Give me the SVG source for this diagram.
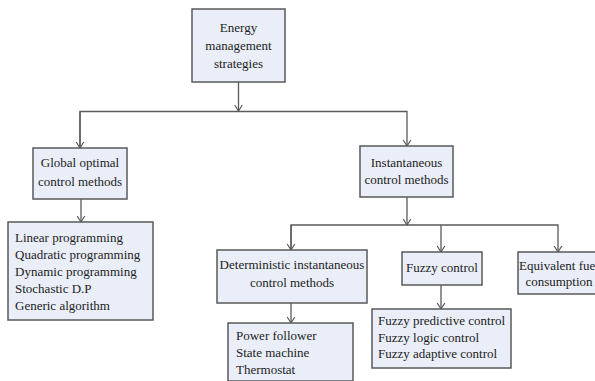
<svg xmlns="http://www.w3.org/2000/svg" width="595" height="381" viewBox="0 0 595 381">
<style>
.box{fill:#e9eef8;stroke:#5a5a5a;stroke-width:1.5}
.t{font-family:"Liberation Serif","Times New Roman",serif;font-size:13px;fill:#222}
.c{text-anchor:middle}
.ln{fill:none;stroke:#5a5a5a;stroke-width:1.3}
</style>
<defs>
<marker id="ah" markerUnits="userSpaceOnUse" markerWidth="8" markerHeight="10" viewBox="0 0 8 10" refX="7" refY="5" orient="auto">
<path d="M1,1.2 L7,5 L1,8.8" fill="none" stroke="#5a5a5a" stroke-width="1.2"/>
</marker>
</defs>
<rect width="595" height="381" fill="#ffffff"/>
<g id="connectors">
<path class="ln" d="M238.5,82 V111" marker-end="url(#ah)"/>
<path class="ln" d="M80,148 V111.5 H407 V146" marker-end="url(#ah)"/>
<path class="ln" d="M80,111.5 V148" marker-end="url(#ah)"/>
<path class="ln" d="M81,199 V222" marker-end="url(#ah)"/>
<path class="ln" d="M407,197 V225" marker-end="url(#ah)"/>
<path class="ln" d="M291,250 V225 H558 V252" marker-end="url(#ah)"/>
<path class="ln" d="M291,225 V250" marker-end="url(#ah)"/>
<path class="ln" d="M441,225 V252" marker-end="url(#ah)"/>
<path class="ln" d="M291,303 V323" marker-end="url(#ah)"/>
<path class="ln" d="M441,285 V309" marker-end="url(#ah)"/>
</g>
<g id="energy">
<rect class="box" x="192" y="9" width="93" height="73"/>
<text class="t c" x="238.5" y="32">Energy</text>
<text class="t c" x="238.5" y="50">management</text>
<text class="t c" x="238.5" y="68">strategies</text>
</g>
<g id="global">
<rect class="box" x="33" y="148" width="94" height="51"/>
<text class="t c" x="80" y="167">Global optimal</text>
<text class="t c" x="80" y="186">control methods</text>
</g>
<g id="global-list">
<rect class="box" x="8" y="222" width="145" height="98"/>
<text class="t" x="15" y="242">Linear programming</text>
<text class="t" x="15" y="259">Quadratic programming</text>
<text class="t" x="15" y="276">Dynamic programming</text>
<text class="t" x="15" y="293">Stochastic D.P</text>
<text class="t" x="15" y="310">Generic algorithm</text>
</g>
<g id="instantaneous">
<rect class="box" x="360" y="146" width="93" height="51"/>
<text class="t c" x="406.5" y="167">Instantaneous</text>
<text class="t c" x="406.5" y="184">control methods</text>
</g>
<g id="deterministic">
<rect class="box" x="217" y="250" width="150" height="53"/>
<text class="t c" x="292" y="269">Deterministic instantaneous</text>
<text class="t c" x="292" y="287">control methods</text>
</g>
<g id="deterministic-list">
<rect class="box" x="228" y="323" width="125" height="58"/>
<text class="t" x="236" y="340">Power follower</text>
<text class="t" x="236" y="357">State machine</text>
<text class="t" x="236" y="374">Thermostat</text>
</g>
<g id="fuzzy">
<rect class="box" x="402" y="252" width="80" height="33"/>
<text class="t c" x="442" y="272">Fuzzy control</text>
</g>
<g id="fuzzy-list">
<rect class="box" x="372" y="309" width="139" height="59"/>
<text class="t" x="378" y="325">Fuzzy predictive control</text>
<text class="t" x="378" y="342">Fuzzy logic control</text>
<text class="t" x="378" y="358">Fuzzy adaptive control</text>
</g>
<g id="equivalent">
<rect class="box" x="518" y="252" width="82" height="42"/>
<text class="t c" x="559" y="270">Equivalent fuel</text>
<text class="t c" x="559" y="286">consumption</text>
</g>
</svg>
